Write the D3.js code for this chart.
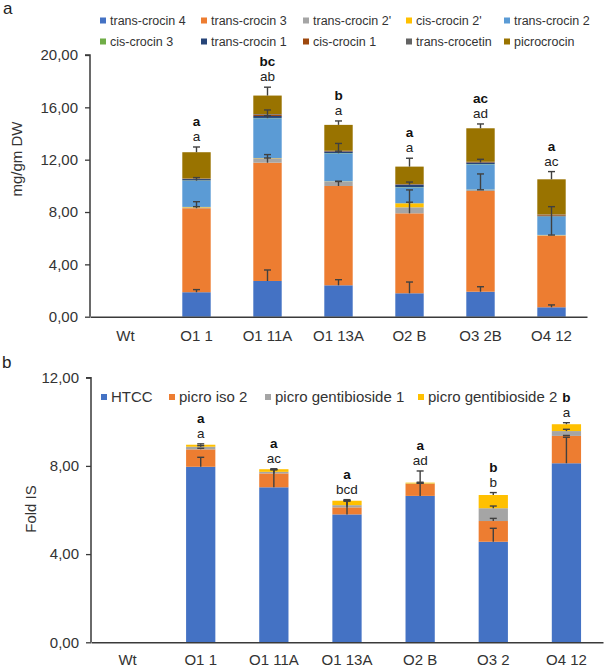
<!DOCTYPE html>
<html><head><meta charset="utf-8">
<script src="https://cdn.jsdelivr.net/npm/d3@7"></script>
<style>body{margin:0;background:#fff} svg{display:block} text{font-family:"Liberation Sans",Arial,sans-serif}</style>
</head><body>
<svg id="c" width="606" height="669"></svg>
<script>
// ---------- Panel a data ----------
const categoriesA = ["Wt","O1 1","O1 11A","O1 13A","O2 B","O3 2B","O4 12"];
const seriesNamesA = ["trans-crocin 4","trans-crocin 3","trans-crocin 2'","cis-crocin 2'","trans-crocin 2","cis-crocin 3","trans-crocin 1","cis-crocin 1","trans-crocetin","picrocrocin"];
const transCrocin4  = [0, 1.87, 2.73, 2.40, 1.79, 1.91, 0.72];
const transCrocin3  = [0, 6.42, 9.04, 7.59, 6.11, 7.70, 5.47];
const transCrocin2p = [0, 0.06, 0.34, 0.33, 0.46, 0.08, 0.04];
const cisCrocin2p   = [0, 0.04, 0.02, 0.02, 0.31, 0.02, 0.02];
const transCrocin2  = [0, 2.01, 3.04, 2.15, 1.22, 1.94, 1.40];
const cisCrocin3    = [0, 0.02, 0.02, 0.02, 0.02, 0.02, 0.02];
const transCrocin1  = [0, 0.10, 0.15, 0.12, 0.18, 0.12, 0.05];
const cisCrocin1    = [0, 0.03, 0.10, 0.03, 0.03, 0.03, 0.08];
const transCrocetin = [0, 0.02, 0.05, 0.02, 0.02, 0.02, 0.02];
const picrocrocin   = [0, 2.00, 1.41, 1.98, 1.33, 2.56, 2.68];
// error bars (plus direction) per series
const errTransCrocin4  = [0, 0.20, 0.84, 0.43, 0.86, 0.38, 0.18];
const errTransCrocin3  = [0, 0.50, 0.62, 0.35, 0.85, 0, 0];
const errTransCrocin2p = [0, 0, 0.02, 0.02, 0, 0.01, 0.01];
const errCisCrocin2p   = [0, 0.02, 0, 0, 1.02, 1.20, 2.16];
const errTransCrocin2  = [0, 0.23, 0.63, 0.75, 0, 0, 0];
const errCisCrocin3    = [0, 0, 0, 0, 0, 0, 0];
const errTransCrocin1  = [0, 0, 0.02, 0.02, 0.20, 0.24, 0];
const errCisCrocin1    = [0, 0, 0, 0, 0, 0, 0];
const errTransCrocetin = [0, 0, 0, 0, 0, 0, 0];
const errPicrocrocin   = [0, 0.40, 0.64, 0.30, 0.64, 0.33, 0.59];
const sigBoldA = ["", "a", "bc", "b", "a", "ac", "a"];
const sigA     = ["", "a", "ab", "a", "a", "ad", "ac"];
const yTicksA = [0, 4, 8, 12, 16, 20];
const yTickLabelsA = ["0,00", "4,00", "8,00", "12,00", "16,00", "20,00"];

// ---------- Panel b data ----------
const categoriesB = ["Wt","O1 1","O1 11A","O1 13A","O2 B","O3 2","O4 12"];
const seriesNamesB = ["HTCC","picro iso 2","picro gentibioside 1","picro gentibioside 2"];
const htcc   = [0, 7.96, 7.03, 5.80, 6.64, 4.56, 8.12];
const picroIso2 = [0, 0.79, 0.63, 0.32, 0.54, 0.94, 1.24];
const picroGent1 = [0, 0.12, 0.07, 0.10, 0.02, 0.58, 0.22];
const picroGent2 = [0, 0.09, 0.12, 0.20, 0.04, 0.60, 0.31];
const errHtcc   = [0, 0.43, 0.80, 0.60, 1.13, 0.61, 1.18];
const errPicroIso2 = [0, 0.05, 0.18, 0.30, 0.03, 0.12, 0.02];
const errPicroGent1 = [0, 0.05, 0.10, 0.22, 0.02, 0.10, 0.08];
const errPicroGent2 = [0, 0.04, 0.02, 0.05, 0.02, 0.11, 0.07];
const sigBoldB = ["", "a", "a", "a", "a", "b", "b"];
const sigB     = ["", "a", "ac", "bcd", "ad", "b", "a"];
const yTicksB = [0, 4, 8, 12];
const yTickLabelsB = ["0,00", "4,00", "8,00", "12,00"];

// ---------- styles ----------
const colorsA = ["#4472C4","#ED7D31","#A5A5A5","#FFC000","#5B9BD5","#70AD47","#264478","#9E480E","#636363","#997300"];
const colorsB = ["#4472C4","#ED7D31","#A5A5A5","#FFC000"];
const axisColor = "#3a3a3a";
const errColor = "#404040";

const svg = d3.select("#c");

function drawPanel(cfg) {
  const g = svg.append("g");
  const x = d3.scaleBand().domain(cfg.categories).range(cfg.xRange).paddingInner(0.6).paddingOuter(0.3);
  const y = d3.scaleLinear().domain([0, cfg.yMax]).range(cfg.yRange);
  const keys = cfg.series.map((_, i) => i);
  const rows = cfg.categories.map((c, j) => {
    const r = {cat: c};
    cfg.series.forEach((s, i) => r[i] = s[j]);
    return r;
  });
  const stacked = d3.stack().keys(keys)(rows);

  // bars
  stacked.forEach((layer, i) => {
    g.append("g").attr("fill", cfg.colors[i]).selectAll("rect").data(layer).join("rect")
      .attr("x", d => x(d.data.cat))
      .attr("width", x.bandwidth())
      .attr("y", d => y(d[1]))
      .attr("height", d => Math.max(0, y(d[0]) - y(d[1])));
  });

  // error bars
  const eg = g.append("g").attr("stroke", errColor).attr("stroke-width", 1.4).attr("fill", "none");
  const tops = cfg.categories.map(() => 0);
  stacked.forEach((layer, i) => {
    layer.forEach((d, j) => {
      const e = cfg.errors[i][j];
      const v = d[1] - d[0];
      if (v <= 0) return;
      tops[j] = Math.max(tops[j], d[1] + e);
      if (e <= 0) return;
      const cx = x(d.data.cat) + x.bandwidth() / 2;
      eg.append("line").attr("x1", cx).attr("x2", cx).attr("y1", y(d[1])).attr("y2", y(d[1] + e));
      eg.append("line").attr("x1", cx - 3.5).attr("x2", cx + 3.5).attr("y1", y(d[1] + e)).attr("y2", y(d[1] + e));
    });
  });

  // y axis
  const ya = d3.axisLeft(y).tickValues(cfg.ticks).tickFormat((d, i) => cfg.tickLabels[i]).tickSize(5).tickPadding(7);
  const yg = g.append("g").attr("transform", `translate(${cfg.xRange[0]},0)`).call(ya);
  yg.select(".domain").attr("stroke", axisColor).attr("stroke-width", 1.5).attr("d", `M-5,${cfg.yRange[1]}H0V${cfg.yRange[0]}`);
  yg.selectAll(".tick line").attr("stroke", axisColor).attr("stroke-width", 1.3);
  yg.selectAll(".tick text").attr("font-size", 15).attr("fill", "#333").attr("font-family", "Liberation Sans, Arial, sans-serif");

  // x axis
  const xa = d3.axisBottom(x).tickSize(0).tickPadding(0);
  const xg = g.append("g").attr("transform", `translate(0,${cfg.yRange[0]})`).call(xa);
  xg.select(".domain").attr("stroke", axisColor).attr("stroke-width", 1.6);
  xg.selectAll(".tick text").attr("font-size", 15).attr("fill", "#333").attr("font-family", "Liberation Sans, Arial, sans-serif")
    .attr("dy", null).attr("y", cfg.catLabelOffset);

  // significance letters
  cfg.categories.forEach((c, j) => {
    if (!cfg.sig[j]) return;
    const cx = x(c) + x.bandwidth() / 2;
    const ty = y(tops[j]);
    g.append("text").attr("x", cx).attr("y", ty - 6).attr("text-anchor", "middle")
      .attr("font-size", 13.5).attr("fill", "#222").text(cfg.sig[j]);
    g.append("text").attr("x", cx).attr("y", ty - 21).attr("text-anchor", "middle")
      .attr("font-size", 13.5).attr("font-weight", "bold").attr("fill", "#111").text(cfg.sigBold[j]);
  });

  // y title
  g.append("text").attr("transform", `translate(${cfg.titleX},${cfg.titleY}) rotate(-90)`)
    .attr("text-anchor", "middle").attr("font-size", 15).attr("fill", "#333").text(cfg.yTitle);

  // legend
  cfg.legend.forEach((p, i) => {
    const lg = g.append("g").attr("transform", `translate(${p[0]},${p[1]})`);
    lg.append("rect").attr("x", -3).attr("y", -3).attr("width", 6).attr("height", 6).attr("fill", cfg.colors[i]);
    lg.append("text").attr("x", 7).attr("y", 0).attr("dy", "0.35em").attr("font-size", cfg.legendFont)
      .attr("fill", "#333").text(cfg.names[i]);
  });

  // panel letter
  svg.append("text").attr("x", cfg.letterPos[0]).attr("y", cfg.letterPos[1]).attr("font-size", 17)
    .attr("fill", "#222").text(cfg.letter);
}

const colX = [103, 204, 306, 409, 507];
drawPanel({
  categories: categoriesA,
  series: [transCrocin4, transCrocin3, transCrocin2p, cisCrocin2p, transCrocin2, cisCrocin3, transCrocin1, cisCrocin1, transCrocetin, picrocrocin],
  errors: [errTransCrocin4, errTransCrocin3, errTransCrocin2p, errCisCrocin2p, errTransCrocin2, errCisCrocin3, errTransCrocin1, errCisCrocin1, errTransCrocetin, errPicrocrocin],
  colors: colorsA, names: seriesNamesA,
  yMax: 20, ticks: yTicksA, tickLabels: yTickLabelsA,
  xRange: [90, 587], yRange: [316.7, 55],
  sig: sigA, sigBold: sigBoldA,
  yTitle: "mg/gm DW", titleX: 22, titleY: 159,
  catLabelOffset: 24,
  legend: seriesNamesA.map((_, i) => [colX[i % 5], i < 5 ? 20.5 : 41.5]),
  legendFont: 12.5,
  letter: "a", letterPos: [3, 13.5]
});

drawPanel({
  categories: categoriesB,
  series: [htcc, picroIso2, picroGent1, picroGent2],
  errors: [errHtcc, errPicroIso2, errPicroGent1, errPicroGent2],
  colors: colorsB, names: seriesNamesB,
  yMax: 12, ticks: yTicksB, tickLabels: yTickLabelsB,
  xRange: [91, 603], yRange: [642.3, 377.7],
  sig: sigB, sigBold: sigBoldB,
  yTitle: "Fold IS", titleX: 36, titleY: 509,
  catLabelOffset: 23,
  legend: [[104, 397], [172, 397], [268, 397], [421, 397]],
  legendFont: 15,
  letter: "b", letterPos: [2, 368]
});
</script>
</body></html>
